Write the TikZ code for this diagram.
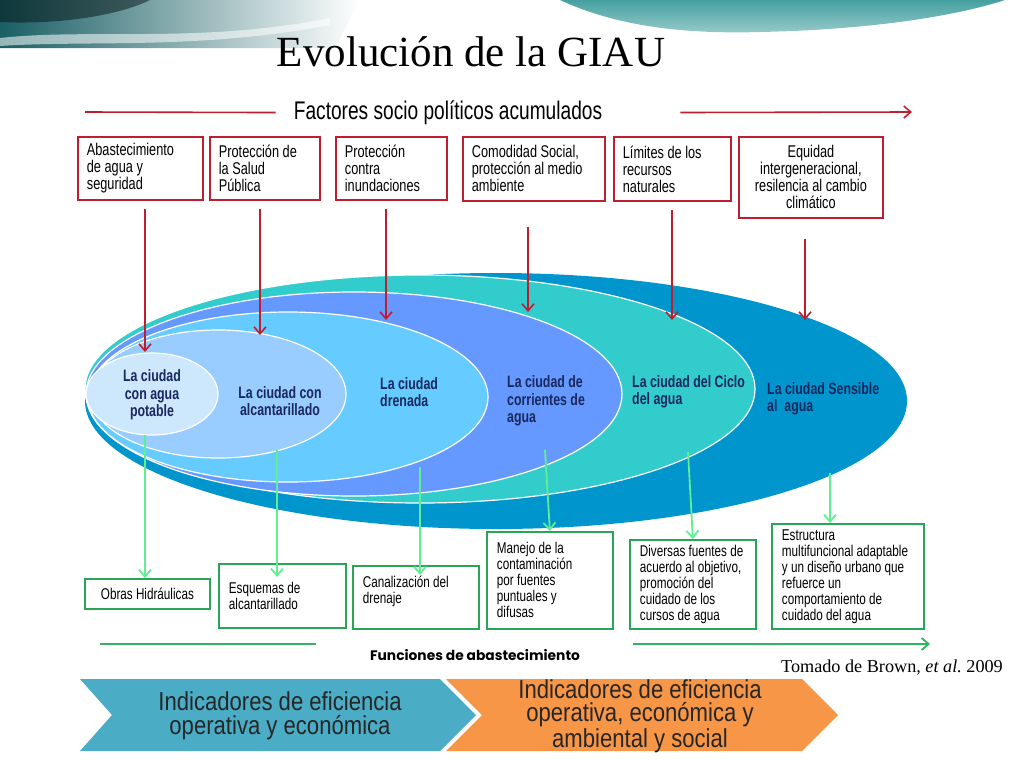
\documentclass[tikz,border=0pt]{standalone}
\usepackage{fontspec}
\setmainfont{Liberation Sans}
\newfontfamily\narrowsans[FakeStretch=0.75]{Liberation Sans}
\newfontfamily\chevsans[FakeStretch=0.85]{Liberation Sans}
\newfontfamily\titleserif{Liberation Serif}
\newfontfamily\roundsans{Poppins}
\usetikzlibrary{arrows.meta,positioning}

\definecolor{factred}{RGB}{190,30,45}
\definecolor{boxgreen}{RGB}{40,165,85}
\definecolor{arrowgreen}{RGB}{95,238,145}
\definecolor{cityink}{RGB}{25,40,95}
\definecolor{cityOuter}{RGB}{0,150,205}
\definecolor{cityTeal}{RGB}{51,204,204}
\definecolor{cityMid}{RGB}{102,153,255}
\definecolor{cityLight}{RGB}{102,204,255}
\definecolor{citySoft}{RGB}{153,204,255}
\definecolor{cityPale}{RGB}{205,231,253}
\definecolor{chevblue}{RGB}{75,172,198}
\definecolor{chevorange}{RGB}{247,150,70}
\definecolor{headteal}{RGB}{25,95,100}
\definecolor{waveteal}{RGB}{70,160,160}

\begin{document}
\begin{tikzpicture}[x=1pt,y=-1pt,>={Straight Barb[length=7pt,width=12pt]},
  factor/.style={draw=factred,line width=1.8pt,anchor=north west,inner xsep=9pt,
    inner ysep=0pt,align=flush left,font=\narrowsans\fontsize{17}{17}\selectfont},
  supply/.style={draw=boxgreen,line width=1.8pt,anchor=north west,inner xsep=10pt,
    inner ysep=0pt,align=flush left,font=\narrowsans\fontsize{15.6}{16}\selectfont},
  city/.style={inner sep=0pt,text=cityink,align=flush left,
    font=\narrowsans\bfseries\fontsize{16.5}{17.5}\selectfont},
  ring/.style={draw=white,line width=1.2pt},
  down/.style={->,draw=factred,line width=1.6pt},
  feed/.style={->,draw=arrowgreen,line width=1.8pt},
  chevtext/.style={align=flush center,text=black!85,font=\chevsans\fontsize{26}{23.5}\selectfont}]
\useasboundingbox (0,0) rectangle (1024,763);

% header
\shade[left color=headteal, middle color=headteal!55, right color=white]
  (0,0) -- (360,0) -- (335,48) -- (0,48) -- cycle;
\fill[white,opacity=.55] (0,38) .. controls (90,28) and (200,44) .. (330,18)
  -- (330,25) .. controls (200,50) and (90,40) .. (0,46) -- cycle;
\fill[black!80!headteal,opacity=.5] (0,0) -- (150,0) .. controls (120,15) and (60,25) .. (0,22) -- cycle;
\shade[top color=waveteal, bottom color=waveteal!55] (560,0) .. controls (620,28) and (690,34) .. (760,32)
  .. controls (860,30) and (950,18) .. (1005,0) -- cycle;
\node[anchor=base,font=\titleserif\fontsize{43}{43}\selectfont] (title) at (471,66) {Evolución de la GIAU};

% factores
\node[inner sep=0pt,font=\narrowsans\fontsize{25.5}{26}\selectfont] (ftit) at (448,113) {Factores socio políticos acumulados};
\coordinate (fl) at (85,112);
\coordinate (fr) at (912,112);
\draw[factred,line width=1.6pt,shorten >=18pt] (fl) -- (ftit);
\draw[down,shorten <=78pt] (ftit) -- (fr);

\node[factor,text width=107,minimum height=63] (b1) at (77,136) {Abastecimiento\\de agua y\\seguridad};
\node[factor,text width=92,minimum height=63] (b2) at (209,136) {Protección de\\la Salud\\Pública};
\node[factor,text width=93,minimum height=63] (b3) at (335,136) {Protección\\contra\\inundaciones};
\node[factor,text width=124,minimum height=64] (b4) at (462,136) {Comodidad~Social,\\protección~al~medio\\ambiente};
\node[factor,text width=99,minimum height=64] (b5) at (613,136) {Límites de los\\recursos\\naturales};
\node[factor,text width=126,minimum height=81,align=flush center] (b6) at (738,136) {Equidad\\intergeneracional,\\resilencia~al~cambio\\climático};

% ciudades
\fill[cityOuter] (496,401) ellipse [x radius=411, y radius=128];
\filldraw[cityTeal,ring] (420,389) ellipse [x radius=335, y radius=114];
\filldraw[cityMid,ring] (354,394) ellipse [x radius=268, y radius=102];
\filldraw[cityLight,ring] (288,397) ellipse [x radius=200, y radius=85];
\filldraw[citySoft,ring] (218,394) ellipse [x radius=128, y radius=64];
\filldraw[cityPale,ring] (152,394) ellipse [x radius=66, y radius=41];

\node[city,align=flush center] (t1) at (152,395) {La ciudad\\con agua\\potable};
\node[city,align=flush center] (t2) at (280,401) {La ciudad con\\alcantarillado};
\node[city,anchor=west] (t3) at (380,392) {La ciudad\\drenada};
\node[city,anchor=west] (t4) at (507,401) {La ciudad de\\corrientes de\\agua};
\node[city,anchor=west] (t5) at (632,392) {La ciudad del Ciclo\\del agua};
\node[city,anchor=west] (t6) at (767,399) {La ciudad Sensible\\al~~agua};

\coordinate (r1) at (145,352);
\coordinate (r2) at (260,335);
\coordinate (r3) at (386,320);
\coordinate (r4) at (528,312);
\coordinate (r5) at (672,320);
\coordinate (r6) at (805,320);
\draw[down,shorten <=8pt] (b1.south -| r1) -- (r1);
\draw[down,shorten <=8pt] (b2.south -| r2) -- (r2);
\draw[down,shorten <=8pt] (b3.south -| r3) -- (r3);
\draw[down,shorten <=25pt] (b4.south -| r4) -- (r4);
\draw[down,shorten <=8pt] (b5.south -| r5) -- (r5);
\draw[down,shorten <=20pt] (b6.south -| r6) -- (r6);

% funciones
\node[supply,text width=105,minimum height=30,align=flush center] (g1) at (84,578) {Obras Hidráulicas};
\node[supply,text width=107,minimum height=64] (g2) at (218,563) {Esquemas de\\alcantarillado};
\node[supply,text width=106,minimum height=63] (g3) at (352,565) {Canalización~del\\drenaje\\\mbox{}};
\node[supply,text width=106,minimum height=97] (g4) at (486,531) {Manejo de la\\contaminación\\por fuentes\\puntuales y\\difusas};
\node[supply,text width=106,minimum height=89] (g5) at (629,539) {Diversas~fuentes~de\\acuerdo~al~objetivo,\\promoción del\\cuidado de los\\cursos de agua};
\node[supply,text width=132,minimum height=105] (g6) at (771,523) {Estructura\\multifuncional~adaptable\\y~un~diseño~urbano~que\\refuerce un\\comportamiento de\\cuidado del agua};

\coordinate (s1) at (145,435);
\coordinate (s2) at (277,450);
\coordinate (s3) at (420,467);
\coordinate (s4) at (545,450);
\coordinate (s5) at (688,452);
\coordinate (s6) at (830,473);
\draw[feed] (s1) -- (s1 |- g1.north);
\draw[feed,shorten >=-14pt] (s2) -- (s2 |- g2.north);
\draw[feed,shorten >=-10pt] (s3) -- (s3 |- g3.north);
\draw[feed] (s4) -- (g4.north);
\draw[feed] (s5) -- (g5.north);
\draw[feed] (s6) -- (s6 |- g6.north);

\coordinate (gl1) at (100,644);
\coordinate (gl2) at (316,644);
\coordinate (gr1) at (633,644);
\coordinate (gr2) at (930,644);
\draw[boxgreen!80!arrowgreen,line width=1.8pt] (gl1) -- (gl2);
\draw[->,boxgreen!80!arrowgreen,line width=1.8pt] (gr1) -- (gr2);
\node[inner sep=0pt,font=\roundsans\bfseries\fontsize{13.8}{15}\selectfont] (ftxt) at (475,655) {Funciones de abastecimiento};
\node[anchor=base east,inner sep=0pt,font=\titleserif\fontsize{18.2}{19}\selectfont] (cite) at (1003,672) {Tomado de Brown, \textit{et al.}\ 2009};

% indicadores
\fill[chevblue] (80,679) -- (440,679) -- (476,715) -- (440,751) -- (80,751) -- (112,715) -- cycle;
\fill[chevorange] (446,679) -- (802,679) -- (838,715) -- (802,751) -- (446,751) -- (482,715) -- cycle;
\node[chevtext] (i1) at (280,716) {Indicadores de eficiencia\\operativa y económica};
\node[chevtext] (i2) at (640,716) {Indicadores de eficiencia\\operativa, económica y\\ambiental y social};
\end{tikzpicture}
\end{document}
